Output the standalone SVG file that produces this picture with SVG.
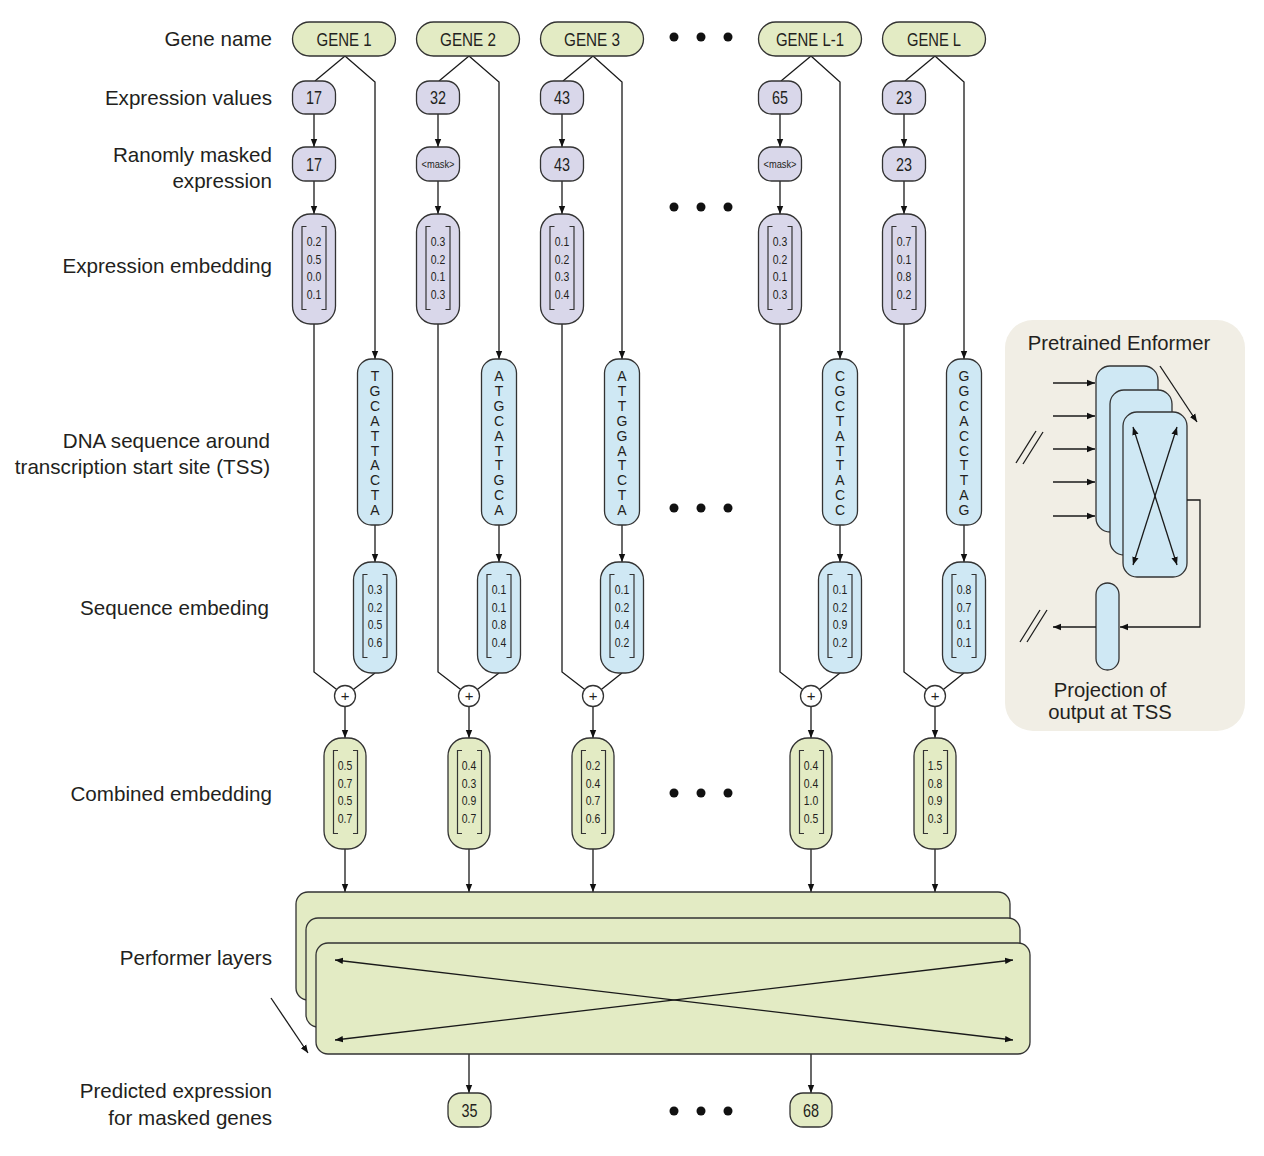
<svg xmlns="http://www.w3.org/2000/svg" width="1264" height="1156" viewBox="0 0 1264 1156">
<defs>
<marker id="ah" viewBox="0 0 10 10" refX="10" refY="5" markerWidth="8" markerHeight="8" orient="auto-start-reverse" markerUnits="userSpaceOnUse"><path d="M0,1 L10,5 L0,9 z" fill="#111"/></marker>
<path id="brk" d="M14,12.5 H9.5 V95.5 H14 M29,12.5 H33.5 V95.5 H29"/>
</defs>
<style>
text{font-family:"Liberation Sans",Arial,sans-serif;fill:#231f20}
.lbl{font-size:20.6px;text-anchor:end}
.ttl{font-size:20.3px;text-anchor:middle}
.nt{font-size:18.5px;text-anchor:middle}
.mk{font-size:10px;text-anchor:middle}
.m{font-size:13.5px;text-anchor:middle}
.dl{font-size:14px;text-anchor:middle}
.pl{font-size:15px;text-anchor:middle}
.g rect,.perf rect{fill:#e3ebc4;stroke:#333;stroke-width:1.3}
.p rect{fill:#d9d7ea;stroke:#333;stroke-width:1.3}
.b rect{fill:#cfe8f4;stroke:#333;stroke-width:1.3}
.brk{fill:none;stroke:#333;stroke-width:1.2}
.pc circle{fill:#fff;stroke:#333;stroke-width:1.3}
.cn line,.cn polyline,.cn path{fill:none;stroke:#1a1a1a;stroke-width:1.3}
.dots circle{fill:#111}
</style>

<!-- Left labels -->
<g id="labels">
<text class="lbl" x="272" y="46">Gene name</text>
<text class="lbl" x="272" y="105">Expression values</text>
<text class="lbl" x="272" y="162">Ranomly masked</text>
<text class="lbl" x="272" y="188">expression</text>
<text class="lbl" x="272" y="273">Expression embedding</text>
<text class="lbl" x="270" y="448">DNA sequence around</text>
<text class="lbl" x="270" y="474">transcription start site (TSS)</text>
<text class="lbl" x="269" y="615">Sequence embeding</text>
<text class="lbl" x="272" y="801">Combined embedding</text>
<text class="lbl" x="272" y="965">Performer layers</text>
<text class="lbl" x="272" y="1098">Predicted expression</text>
<text class="lbl" x="272" y="1125">for masked genes</text>
</g>

<!-- Enformer panel -->
<g id="enformer">
<rect x="1005" y="320" width="240" height="411" rx="28" fill="#f1eee5"/>
<text class="ttl" x="1119" y="350">Pretrained Enformer</text>
<g class="b">
<rect x="1096" y="366" width="62" height="166" rx="14"/>
<rect x="1110" y="390" width="62" height="165" rx="14"/>
<rect x="1123" y="412" width="64" height="165" rx="14"/>
<rect x="1096" y="583" width="23" height="87" rx="11.5"/>
</g>
<text class="ttl" x="1110" y="697">Projection of</text>
<text class="ttl" x="1110" y="719">output at TSS</text>
<g class="cn">
<line x1="1053" y1="383" x2="1095" y2="383" marker-end="url(#ah)"/>
<line x1="1053" y1="416" x2="1095" y2="416" marker-end="url(#ah)"/>
<line x1="1053" y1="449" x2="1095" y2="449" marker-end="url(#ah)"/>
<line x1="1053" y1="482" x2="1095" y2="482" marker-end="url(#ah)"/>
<line x1="1053" y1="516" x2="1095" y2="516" marker-end="url(#ah)"/>
<line x1="1160" y1="366" x2="1197" y2="422" marker-end="url(#ah)"/>
<line x1="1133" y1="427" x2="1177" y2="565" marker-start="url(#ah)" marker-end="url(#ah)"/>
<line x1="1177" y1="427" x2="1133" y2="565" marker-start="url(#ah)" marker-end="url(#ah)"/>
<polyline points="1187,500 1200,500 1200,627 1120,627" marker-end="url(#ah)"/>
<line x1="1096" y1="627" x2="1053" y2="627" marker-end="url(#ah)"/>
<line x1="1016" y1="463" x2="1036" y2="431"/>
<line x1="1023" y1="464" x2="1043" y2="432"/>
<line x1="1020" y1="642" x2="1040" y2="610"/>
<line x1="1027" y1="642" x2="1047" y2="610"/>
</g>
</g>

<!-- Dots -->
<g id="dots" class="dots">
<circle cx="674" cy="37" r="4.5"/><circle cx="701" cy="37" r="4.5"/><circle cx="728" cy="37" r="4.5"/>
<circle cx="674" cy="207" r="4.5"/><circle cx="701" cy="207" r="4.5"/><circle cx="728" cy="207" r="4.5"/>
<circle cx="674" cy="508" r="4.5"/><circle cx="701" cy="508" r="4.5"/><circle cx="728" cy="508" r="4.5"/>
<circle cx="674" cy="793" r="4.5"/><circle cx="701" cy="793" r="4.5"/><circle cx="728" cy="793" r="4.5"/>
<circle cx="674" cy="1111" r="4.5"/><circle cx="701" cy="1111" r="4.5"/><circle cx="728" cy="1111" r="4.5"/>
</g>

<!-- Connectors -->
<g id="connectors" class="cn">
<!-- column 1 -->
<line x1="345" y1="56" x2="315" y2="81"/>
<polyline points="345,56 375,82 375,359" marker-end="url(#ah)"/>
<line x1="314" y1="114" x2="314" y2="147" marker-end="url(#ah)"/>
<line x1="314" y1="181" x2="314" y2="214" marker-end="url(#ah)"/>
<polyline points="314,324 314,672 336.7,689.6"/>
<line x1="375" y1="525" x2="375" y2="562" marker-end="url(#ah)"/>
<line x1="375" y1="673" x2="353.3" y2="689.6"/>
<line x1="345" y1="706.5" x2="345" y2="738" marker-end="url(#ah)"/>
<line x1="345" y1="849" x2="345" y2="892" marker-end="url(#ah)"/>
<!-- column 2 -->
<line x1="469" y1="56" x2="439" y2="81"/>
<polyline points="469,56 499,82 499,359" marker-end="url(#ah)"/>
<line x1="438" y1="114" x2="438" y2="147" marker-end="url(#ah)"/>
<line x1="438" y1="181" x2="438" y2="214" marker-end="url(#ah)"/>
<polyline points="438,324 438,672 460.7,689.6"/>
<line x1="499" y1="525" x2="499" y2="562" marker-end="url(#ah)"/>
<line x1="499" y1="673" x2="477.3" y2="689.6"/>
<line x1="469" y1="706.5" x2="469" y2="738" marker-end="url(#ah)"/>
<line x1="469" y1="849" x2="469" y2="892" marker-end="url(#ah)"/>
<!-- column 3 -->
<line x1="593" y1="56" x2="563" y2="81"/>
<polyline points="593,56 622,82 622,359" marker-end="url(#ah)"/>
<line x1="562" y1="114" x2="562" y2="147" marker-end="url(#ah)"/>
<line x1="562" y1="181" x2="562" y2="214" marker-end="url(#ah)"/>
<polyline points="562,324 562,672 584.7,689.6"/>
<line x1="622" y1="525" x2="622" y2="562" marker-end="url(#ah)"/>
<line x1="622" y1="673" x2="601.3" y2="689.6"/>
<line x1="593" y1="706.5" x2="593" y2="738" marker-end="url(#ah)"/>
<line x1="593" y1="849" x2="593" y2="892" marker-end="url(#ah)"/>
<!-- column L-1 -->
<line x1="811" y1="56" x2="781" y2="81"/>
<polyline points="811,56 840,82 840,359" marker-end="url(#ah)"/>
<line x1="780" y1="114" x2="780" y2="147" marker-end="url(#ah)"/>
<line x1="780" y1="181" x2="780" y2="214" marker-end="url(#ah)"/>
<polyline points="780,324 780,672 802.7,689.6"/>
<line x1="840" y1="525" x2="840" y2="562" marker-end="url(#ah)"/>
<line x1="840" y1="673" x2="819.3" y2="689.6"/>
<line x1="811" y1="706.5" x2="811" y2="738" marker-end="url(#ah)"/>
<line x1="811" y1="849" x2="811" y2="892" marker-end="url(#ah)"/>
<!-- column L -->
<line x1="935" y1="56" x2="905" y2="81"/>
<polyline points="935,56 964,82 964,359" marker-end="url(#ah)"/>
<line x1="904" y1="114" x2="904" y2="147" marker-end="url(#ah)"/>
<line x1="904" y1="181" x2="904" y2="214" marker-end="url(#ah)"/>
<polyline points="904,324 904,672 926.7,689.6"/>
<line x1="964" y1="525" x2="964" y2="562" marker-end="url(#ah)"/>
<line x1="964" y1="673" x2="943.3" y2="689.6"/>
<line x1="935" y1="706.5" x2="935" y2="738" marker-end="url(#ah)"/>
<line x1="935" y1="849" x2="935" y2="892" marker-end="url(#ah)"/>
<!-- outputs -->
<line x1="469" y1="1054" x2="469" y2="1093" marker-end="url(#ah)"/>
<line x1="811" y1="1054" x2="811" y2="1093" marker-end="url(#ah)"/>
<line x1="271" y1="998" x2="308" y2="1053" marker-end="url(#ah)"/>
</g>

<!-- Performer layers -->
<g id="performer" class="perf">
<rect x="296" y="892" width="714" height="108" rx="12"/>
<rect x="306" y="918" width="714" height="109" rx="12"/>
<rect x="316" y="943" width="714" height="111" rx="12"/>
<g class="cn">
<line x1="335" y1="960" x2="1013" y2="1040" marker-start="url(#ah)" marker-end="url(#ah)"/>
<line x1="335" y1="1040" x2="1013" y2="960" marker-start="url(#ah)" marker-end="url(#ah)"/>
</g>
</g>

<!-- Gene name nodes -->
<g id="gene-1" class="g" transform="translate(292.5,22)"><rect width="103" height="34" rx="17"/><text class="nt" x="51.5" y="23.5" textLength="55" lengthAdjust="spacingAndGlyphs">GENE 1</text></g>
<g id="gene-2" class="g" transform="translate(416.5,22)"><rect width="103" height="34" rx="17"/><text class="nt" x="51.5" y="23.5" textLength="56" lengthAdjust="spacingAndGlyphs">GENE 2</text></g>
<g id="gene-3" class="g" transform="translate(540.5,22)"><rect width="103" height="34" rx="17"/><text class="nt" x="51.5" y="23.5" textLength="56" lengthAdjust="spacingAndGlyphs">GENE 3</text></g>
<g id="gene-L-1" class="g" transform="translate(758.5,22)"><rect width="103" height="34" rx="17"/><text class="nt" x="51.5" y="23.5" textLength="68" lengthAdjust="spacingAndGlyphs">GENE L-1</text></g>
<g id="gene-L" class="g" transform="translate(882.5,22)"><rect width="103" height="34" rx="17"/><text class="nt" x="51.5" y="23.5" textLength="54" lengthAdjust="spacingAndGlyphs">GENE L</text></g>

<!-- Expression values -->
<g id="expr-1" class="p" transform="translate(292.5,81)"><rect width="43" height="33" rx="13"/><text class="nt" x="21.5" y="23" textLength="16" lengthAdjust="spacingAndGlyphs">17</text></g>
<g id="expr-2" class="p" transform="translate(416.5,81)"><rect width="43" height="33" rx="13"/><text class="nt" x="21.5" y="23" textLength="16" lengthAdjust="spacingAndGlyphs">32</text></g>
<g id="expr-3" class="p" transform="translate(540.5,81)"><rect width="43" height="33" rx="13"/><text class="nt" x="21.5" y="23" textLength="16" lengthAdjust="spacingAndGlyphs">43</text></g>
<g id="expr-L-1" class="p" transform="translate(758.5,81)"><rect width="43" height="33" rx="13"/><text class="nt" x="21.5" y="23" textLength="16" lengthAdjust="spacingAndGlyphs">65</text></g>
<g id="expr-L" class="p" transform="translate(882.5,81)"><rect width="43" height="33" rx="13"/><text class="nt" x="21.5" y="23" textLength="16" lengthAdjust="spacingAndGlyphs">23</text></g>

<!-- Masked expression -->
<g id="mask-1" class="p" transform="translate(292.5,147)"><rect width="43" height="34" rx="13"/><text class="nt" x="21.5" y="23.5" textLength="16" lengthAdjust="spacingAndGlyphs">17</text></g>
<g id="mask-2" class="p" transform="translate(416.5,147)"><rect width="43" height="34" rx="13"/><text class="mk" x="21.5" y="20.5" textLength="33" lengthAdjust="spacingAndGlyphs">&lt;mask&gt;</text></g>
<g id="mask-3" class="p" transform="translate(540.5,147)"><rect width="43" height="34" rx="13"/><text class="nt" x="21.5" y="23.5" textLength="16" lengthAdjust="spacingAndGlyphs">43</text></g>
<g id="mask-L-1" class="p" transform="translate(758.5,147)"><rect width="43" height="34" rx="13"/><text class="mk" x="21.5" y="20.5" textLength="33" lengthAdjust="spacingAndGlyphs">&lt;mask&gt;</text></g>
<g id="mask-L" class="p" transform="translate(882.5,147)"><rect width="43" height="34" rx="13"/><text class="nt" x="21.5" y="23.5" textLength="16" lengthAdjust="spacingAndGlyphs">23</text></g>

<!-- Expression embeddings -->
<g id="expemb-1" class="p" transform="translate(292.5,214)"><rect width="43" height="110" rx="18"/><use href="#brk" class="brk"/>
<text class="m" x="21.5" y="32" textLength="14.5" lengthAdjust="spacingAndGlyphs">0.2</text><text class="m" x="21.5" y="49.5" textLength="14.5" lengthAdjust="spacingAndGlyphs">0.5</text><text class="m" x="21.5" y="67" textLength="14.5" lengthAdjust="spacingAndGlyphs">0.0</text><text class="m" x="21.5" y="84.5" textLength="14.5" lengthAdjust="spacingAndGlyphs">0.1</text></g>
<g id="expemb-2" class="p" transform="translate(416.5,214)"><rect width="43" height="110" rx="18"/><use href="#brk" class="brk"/>
<text class="m" x="21.5" y="32" textLength="14.5" lengthAdjust="spacingAndGlyphs">0.3</text><text class="m" x="21.5" y="49.5" textLength="14.5" lengthAdjust="spacingAndGlyphs">0.2</text><text class="m" x="21.5" y="67" textLength="14.5" lengthAdjust="spacingAndGlyphs">0.1</text><text class="m" x="21.5" y="84.5" textLength="14.5" lengthAdjust="spacingAndGlyphs">0.3</text></g>
<g id="expemb-3" class="p" transform="translate(540.5,214)"><rect width="43" height="110" rx="18"/><use href="#brk" class="brk"/>
<text class="m" x="21.5" y="32" textLength="14.5" lengthAdjust="spacingAndGlyphs">0.1</text><text class="m" x="21.5" y="49.5" textLength="14.5" lengthAdjust="spacingAndGlyphs">0.2</text><text class="m" x="21.5" y="67" textLength="14.5" lengthAdjust="spacingAndGlyphs">0.3</text><text class="m" x="21.5" y="84.5" textLength="14.5" lengthAdjust="spacingAndGlyphs">0.4</text></g>
<g id="expemb-L-1" class="p" transform="translate(758.5,214)"><rect width="43" height="110" rx="18"/><use href="#brk" class="brk"/>
<text class="m" x="21.5" y="32" textLength="14.5" lengthAdjust="spacingAndGlyphs">0.3</text><text class="m" x="21.5" y="49.5" textLength="14.5" lengthAdjust="spacingAndGlyphs">0.2</text><text class="m" x="21.5" y="67" textLength="14.5" lengthAdjust="spacingAndGlyphs">0.1</text><text class="m" x="21.5" y="84.5" textLength="14.5" lengthAdjust="spacingAndGlyphs">0.3</text></g>
<g id="expemb-L" class="p" transform="translate(882.5,214)"><rect width="43" height="110" rx="18"/><use href="#brk" class="brk"/>
<text class="m" x="21.5" y="32" textLength="14.5" lengthAdjust="spacingAndGlyphs">0.7</text><text class="m" x="21.5" y="49.5" textLength="14.5" lengthAdjust="spacingAndGlyphs">0.1</text><text class="m" x="21.5" y="67" textLength="14.5" lengthAdjust="spacingAndGlyphs">0.8</text><text class="m" x="21.5" y="84.5" textLength="14.5" lengthAdjust="spacingAndGlyphs">0.2</text></g>

<!-- DNA sequences -->
<g id="dna-1" class="b" transform="translate(357.5,359)"><rect width="35" height="166" rx="14"/><text class="dl"><tspan x="17.5" y="22">T</tspan><tspan x="17.5" dy="14.9">G</tspan><tspan x="17.5" dy="14.9">C</tspan><tspan x="17.5" dy="14.9">A</tspan><tspan x="17.5" dy="14.9">T</tspan><tspan x="17.5" dy="14.9">T</tspan><tspan x="17.5" dy="14.9">A</tspan><tspan x="17.5" dy="14.9">C</tspan><tspan x="17.5" dy="14.9">T</tspan><tspan x="17.5" dy="14.9">A</tspan></text></g>
<g id="dna-2" class="b" transform="translate(481.5,359)"><rect width="35" height="166" rx="14"/><text class="dl"><tspan x="17.5" y="22">A</tspan><tspan x="17.5" dy="14.9">T</tspan><tspan x="17.5" dy="14.9">G</tspan><tspan x="17.5" dy="14.9">C</tspan><tspan x="17.5" dy="14.9">A</tspan><tspan x="17.5" dy="14.9">T</tspan><tspan x="17.5" dy="14.9">T</tspan><tspan x="17.5" dy="14.9">G</tspan><tspan x="17.5" dy="14.9">C</tspan><tspan x="17.5" dy="14.9">A</tspan></text></g>
<g id="dna-3" class="b" transform="translate(604.5,359)"><rect width="35" height="166" rx="14"/><text class="dl"><tspan x="17.5" y="22">A</tspan><tspan x="17.5" dy="14.9">T</tspan><tspan x="17.5" dy="14.9">T</tspan><tspan x="17.5" dy="14.9">G</tspan><tspan x="17.5" dy="14.9">G</tspan><tspan x="17.5" dy="14.9">A</tspan><tspan x="17.5" dy="14.9">T</tspan><tspan x="17.5" dy="14.9">C</tspan><tspan x="17.5" dy="14.9">T</tspan><tspan x="17.5" dy="14.9">A</tspan></text></g>
<g id="dna-L-1" class="b" transform="translate(822.5,359)"><rect width="35" height="166" rx="14"/><text class="dl"><tspan x="17.5" y="22">C</tspan><tspan x="17.5" dy="14.9">G</tspan><tspan x="17.5" dy="14.9">C</tspan><tspan x="17.5" dy="14.9">T</tspan><tspan x="17.5" dy="14.9">A</tspan><tspan x="17.5" dy="14.9">T</tspan><tspan x="17.5" dy="14.9">T</tspan><tspan x="17.5" dy="14.9">A</tspan><tspan x="17.5" dy="14.9">C</tspan><tspan x="17.5" dy="14.9">C</tspan></text></g>
<g id="dna-L" class="b" transform="translate(946.5,359)"><rect width="35" height="166" rx="14"/><text class="dl"><tspan x="17.5" y="22">G</tspan><tspan x="17.5" dy="14.9">G</tspan><tspan x="17.5" dy="14.9">C</tspan><tspan x="17.5" dy="14.9">A</tspan><tspan x="17.5" dy="14.9">C</tspan><tspan x="17.5" dy="14.9">C</tspan><tspan x="17.5" dy="14.9">T</tspan><tspan x="17.5" dy="14.9">T</tspan><tspan x="17.5" dy="14.9">A</tspan><tspan x="17.5" dy="14.9">G</tspan></text></g>

<!-- Sequence embeddings -->
<g id="seqemb-1" class="b" transform="translate(353.5,562)"><rect width="43" height="111" rx="18"/><use href="#brk" class="brk"/>
<text class="m" x="21.5" y="32" textLength="14.5" lengthAdjust="spacingAndGlyphs">0.3</text><text class="m" x="21.5" y="49.5" textLength="14.5" lengthAdjust="spacingAndGlyphs">0.2</text><text class="m" x="21.5" y="67" textLength="14.5" lengthAdjust="spacingAndGlyphs">0.5</text><text class="m" x="21.5" y="84.5" textLength="14.5" lengthAdjust="spacingAndGlyphs">0.6</text></g>
<g id="seqemb-2" class="b" transform="translate(477.5,562)"><rect width="43" height="111" rx="18"/><use href="#brk" class="brk"/>
<text class="m" x="21.5" y="32" textLength="14.5" lengthAdjust="spacingAndGlyphs">0.1</text><text class="m" x="21.5" y="49.5" textLength="14.5" lengthAdjust="spacingAndGlyphs">0.1</text><text class="m" x="21.5" y="67" textLength="14.5" lengthAdjust="spacingAndGlyphs">0.8</text><text class="m" x="21.5" y="84.5" textLength="14.5" lengthAdjust="spacingAndGlyphs">0.4</text></g>
<g id="seqemb-3" class="b" transform="translate(600.5,562)"><rect width="43" height="111" rx="18"/><use href="#brk" class="brk"/>
<text class="m" x="21.5" y="32" textLength="14.5" lengthAdjust="spacingAndGlyphs">0.1</text><text class="m" x="21.5" y="49.5" textLength="14.5" lengthAdjust="spacingAndGlyphs">0.2</text><text class="m" x="21.5" y="67" textLength="14.5" lengthAdjust="spacingAndGlyphs">0.4</text><text class="m" x="21.5" y="84.5" textLength="14.5" lengthAdjust="spacingAndGlyphs">0.2</text></g>
<g id="seqemb-L-1" class="b" transform="translate(818.5,562)"><rect width="43" height="111" rx="18"/><use href="#brk" class="brk"/>
<text class="m" x="21.5" y="32" textLength="14.5" lengthAdjust="spacingAndGlyphs">0.1</text><text class="m" x="21.5" y="49.5" textLength="14.5" lengthAdjust="spacingAndGlyphs">0.2</text><text class="m" x="21.5" y="67" textLength="14.5" lengthAdjust="spacingAndGlyphs">0.9</text><text class="m" x="21.5" y="84.5" textLength="14.5" lengthAdjust="spacingAndGlyphs">0.2</text></g>
<g id="seqemb-L" class="b" transform="translate(942.5,562)"><rect width="43" height="111" rx="18"/><use href="#brk" class="brk"/>
<text class="m" x="21.5" y="32" textLength="14.5" lengthAdjust="spacingAndGlyphs">0.8</text><text class="m" x="21.5" y="49.5" textLength="14.5" lengthAdjust="spacingAndGlyphs">0.7</text><text class="m" x="21.5" y="67" textLength="14.5" lengthAdjust="spacingAndGlyphs">0.1</text><text class="m" x="21.5" y="84.5" textLength="14.5" lengthAdjust="spacingAndGlyphs">0.1</text></g>

<!-- Plus nodes -->
<g id="plus-1" class="pc" transform="translate(345,696)"><circle r="10.5"/><text class="pl" y="5">+</text></g>
<g id="plus-2" class="pc" transform="translate(469,696)"><circle r="10.5"/><text class="pl" y="5">+</text></g>
<g id="plus-3" class="pc" transform="translate(593,696)"><circle r="10.5"/><text class="pl" y="5">+</text></g>
<g id="plus-L-1" class="pc" transform="translate(811,696)"><circle r="10.5"/><text class="pl" y="5">+</text></g>
<g id="plus-L" class="pc" transform="translate(935,696)"><circle r="10.5"/><text class="pl" y="5">+</text></g>

<!-- Combined embeddings -->
<g id="comb-1" class="g" transform="translate(324,738)"><rect width="42" height="111" rx="18"/><use href="#brk" class="brk"/>
<text class="m" x="21" y="32" textLength="14.5" lengthAdjust="spacingAndGlyphs">0.5</text><text class="m" x="21" y="49.5" textLength="14.5" lengthAdjust="spacingAndGlyphs">0.7</text><text class="m" x="21" y="67" textLength="14.5" lengthAdjust="spacingAndGlyphs">0.5</text><text class="m" x="21" y="84.5" textLength="14.5" lengthAdjust="spacingAndGlyphs">0.7</text></g>
<g id="comb-2" class="g" transform="translate(448,738)"><rect width="42" height="111" rx="18"/><use href="#brk" class="brk"/>
<text class="m" x="21" y="32" textLength="14.5" lengthAdjust="spacingAndGlyphs">0.4</text><text class="m" x="21" y="49.5" textLength="14.5" lengthAdjust="spacingAndGlyphs">0.3</text><text class="m" x="21" y="67" textLength="14.5" lengthAdjust="spacingAndGlyphs">0.9</text><text class="m" x="21" y="84.5" textLength="14.5" lengthAdjust="spacingAndGlyphs">0.7</text></g>
<g id="comb-3" class="g" transform="translate(572,738)"><rect width="42" height="111" rx="18"/><use href="#brk" class="brk"/>
<text class="m" x="21" y="32" textLength="14.5" lengthAdjust="spacingAndGlyphs">0.2</text><text class="m" x="21" y="49.5" textLength="14.5" lengthAdjust="spacingAndGlyphs">0.4</text><text class="m" x="21" y="67" textLength="14.5" lengthAdjust="spacingAndGlyphs">0.7</text><text class="m" x="21" y="84.5" textLength="14.5" lengthAdjust="spacingAndGlyphs">0.6</text></g>
<g id="comb-L-1" class="g" transform="translate(790,738)"><rect width="42" height="111" rx="18"/><use href="#brk" class="brk"/>
<text class="m" x="21" y="32" textLength="14.5" lengthAdjust="spacingAndGlyphs">0.4</text><text class="m" x="21" y="49.5" textLength="14.5" lengthAdjust="spacingAndGlyphs">0.4</text><text class="m" x="21" y="67" textLength="14.5" lengthAdjust="spacingAndGlyphs">1.0</text><text class="m" x="21" y="84.5" textLength="14.5" lengthAdjust="spacingAndGlyphs">0.5</text></g>
<g id="comb-L" class="g" transform="translate(914,738)"><rect width="42" height="111" rx="18"/><use href="#brk" class="brk"/>
<text class="m" x="21" y="32" textLength="14.5" lengthAdjust="spacingAndGlyphs">1.5</text><text class="m" x="21" y="49.5" textLength="14.5" lengthAdjust="spacingAndGlyphs">0.8</text><text class="m" x="21" y="67" textLength="14.5" lengthAdjust="spacingAndGlyphs">0.9</text><text class="m" x="21" y="84.5" textLength="14.5" lengthAdjust="spacingAndGlyphs">0.3</text></g>

<!-- Predicted outputs -->
<g id="out-1" class="g" transform="translate(448,1093)"><rect width="43" height="34" rx="13"/><text class="nt" x="21.5" y="23.5" textLength="16" lengthAdjust="spacingAndGlyphs">35</text></g>
<g id="out-2" class="g" transform="translate(790,1093)"><rect width="42" height="34" rx="13"/><text class="nt" x="21" y="23.5" textLength="16" lengthAdjust="spacingAndGlyphs">68</text></g>
</svg>
